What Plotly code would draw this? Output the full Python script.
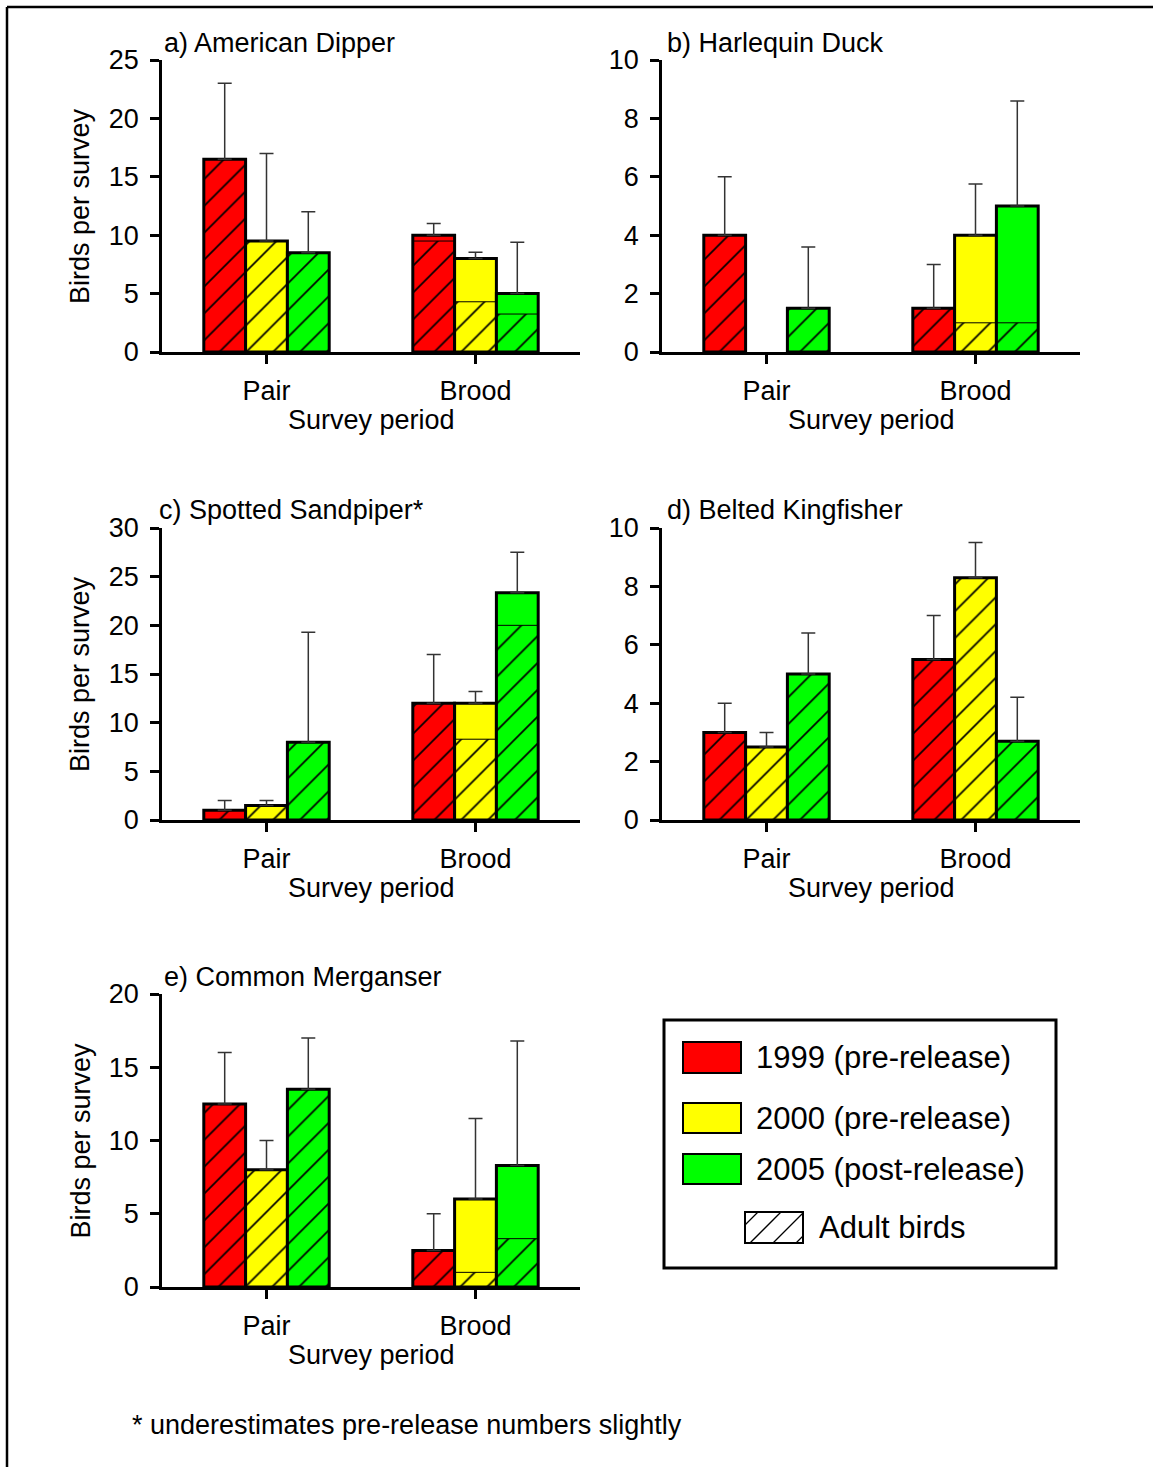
import plotly.graph_objects as go

W, H = 1153, 1467
FONT = "Liberation Sans, Arial, Helvetica, sans-serif"

# ---------------- data ----------------
periods = ["Pair", "Brood"]
year_labels = ["1999 (pre-release)", "2000 (pre-release)", "2005 (post-release)"]
year_colors = ["#ff0000", "#ffff00", "#00ff00"]
adult_label = "Adult birds"

panel_titles = ["a) American Dipper", "b) Harlequin Duck", "c) Spotted Sandpiper*",
                "d) Belted Kingfisher", "e) Common Merganser"]
y_max = [25, 10, 30, 10, 20]
y_step = [5, 2, 5, 2, 5]

# rows = years (1999, 2000, 2005), columns = periods (Pair, Brood)
dipper_total = [[16.5, 10.0], [9.5, 8.0], [8.5, 5.0]]
dipper_adult = [[16.5, 9.5], [9.5, 4.3], [8.5, 3.25]]
dipper_upper = [[23.0, 11.0], [17.0, 8.55], [12.0, 9.4]]

harlequin_total = [[4.0, 1.5], [None, 4.0], [1.5, 5.0]]
harlequin_adult = [[4.0, 1.5], [None, 1.0], [1.5, 1.0]]
harlequin_upper = [[6.0, 3.0], [None, 5.75], [3.6, 8.6]]

sandpiper_total = [[1.0, 12.0], [1.5, 12.0], [8.0, 23.35]]
sandpiper_adult = [[1.0, 12.0], [1.5, 8.3], [8.0, 20.0]]
sandpiper_upper = [[2.0, 17.0], [2.0, 13.2], [19.3, 27.5]]

kingfisher_total = [[3.0, 5.5], [2.5, 8.3], [5.0, 2.7]]
kingfisher_adult = [[3.0, 5.5], [2.5, 8.3], [5.0, 2.7]]
kingfisher_upper = [[4.0, 7.0], [3.0, 9.5], [6.4, 4.2]]

merganser_total = [[12.5, 2.5], [8.0, 6.0], [13.5, 8.3]]
merganser_adult = [[12.5, 2.5], [8.0, 1.0], [13.5, 3.3]]
merganser_upper = [[16.0, 5.0], [10.0, 11.5], [17.0, 16.8]]

x_title = "Survey period"
y_title = "Birds per survey"
footnote = "* underestimates pre-release numbers slightly"

panels = [
    (dipper_total, dipper_adult, dipper_upper),
    (harlequin_total, harlequin_adult, harlequin_upper),
    (sandpiper_total, sandpiper_adult, sandpiper_upper),
    (kingfisher_total, kingfisher_adult, kingfisher_upper),
    (merganser_total, merganser_adult, merganser_upper),
]

# ---------------- layout geometry (pixels) ----------------
col_x = [(162, 580), (662, 1080)]
row_y = [(60, 352), (528, 820), (994, 1287)]
panel_cell = [(0, 0), (0, 1), (1, 0), (1, 1), (2, 0)]
title_px = [(162, 43), (665, 43), (157, 510), (665, 510), (162, 977)]
bar_offsets = [-0.3, -0.1, 0.1]
bar_w = 0.2


def fx(px):
    return px / W


def fy(py):
    return 1 - py / H


fig = go.Figure()
annotations = []
shapes = []
TXT = dict(family=FONT, size=27, color="black")

for i, (tot, adu, upp) in enumerate(panels):
    r, c = panel_cell[i]
    sfx = "" if i == 0 else str(i + 1)
    xa, ya = "x" + sfx, "y" + sfx
    for k in range(3):
        col = year_colors[k]
        err = [None if (u is None or t is None) else u - t for u, t in zip(upp[k], tot[k])]
        # base fill (juvenile part visible above adults)
        fig.add_trace(go.Bar(x=periods, y=tot[k], xaxis=xa, yaxis=ya, offset=bar_offsets[k],
                             width=bar_w, marker=dict(color=col, line=dict(width=0)),
                             showlegend=False, hoverinfo="skip"))
        # adult part (hatched)
        fig.add_trace(go.Bar(x=periods, y=adu[k], xaxis=xa, yaxis=ya, offset=bar_offsets[k],
                             width=bar_w,
                             marker=dict(color=col, line=dict(color="black", width=1),
                                         pattern=dict(shape="/", fgcolor="black", bgcolor=col,
                                                      size=19, solidity=0.09)),
                             showlegend=False, hoverinfo="skip"))
        # outline + error bar
        fig.add_trace(go.Bar(x=periods, y=tot[k], xaxis=xa, yaxis=ya, offset=bar_offsets[k],
                             width=bar_w,
                             marker=dict(color="rgba(0,0,0,0)", line=dict(color="black", width=3)),
                             error_y=dict(type="data", symmetric=False, array=err,
                                          arrayminus=[0, 0], color="#333333", thickness=1.5, width=7),
                             showlegend=False, hoverinfo="skip"))

    x0, x1 = col_x[c]
    y0, y1 = row_y[r]
    fig.layout["xaxis" + sfx] = dict(
        domain=[fx(x0), fx(x1)], anchor=ya, type="category", range=[-0.5, 1.5],
        showline=True, linecolor="black", linewidth=2.5, ticks="outside", ticklen=9,
        tickwidth=2.5, tickcolor="black", tickfont=TXT, showgrid=False, zeroline=False,
        ticklabelstandoff=4, automargin=False, fixedrange=True)
    fig.layout["yaxis" + sfx] = dict(
        domain=[fy(y1), fy(y0)], anchor=xa, range=[0, y_max[i]], tick0=0, dtick=y_step[i],
        showline=True, linecolor="black", linewidth=2.5, ticks="outside", ticklen=9,
        tickwidth=2.5, tickcolor="black", tickfont=TXT, showgrid=False, zeroline=False,
        ticklabelstandoff=6, automargin=False, fixedrange=True)

    tx, ty = title_px[i]
    annotations.append(dict(text=panel_titles[i], x=fx(tx), y=fy(ty), xref="paper", yref="paper",
                            xanchor="left", yanchor="middle", showarrow=False, font=TXT))
    annotations.append(dict(text=x_title, x=fx((x0 + x1) / 2), y=fy(y1 + 68), xref="paper",
                            yref="paper", xanchor="center", yanchor="middle", showarrow=False, font=TXT))
    if c == 0:
        annotations.append(dict(text=y_title, x=fx(80), y=fy((y0 + y1) / 2), xref="paper",
                                yref="paper", xanchor="center", yanchor="middle", textangle=-90,
                                showarrow=False, font=TXT))

# footnote
annotations.append(dict(text=footnote, x=fx(130), y=fy(1425), xref="paper", yref="paper",
                        xanchor="left", yanchor="middle", showarrow=False, font=TXT))

# ---------------- legend (drawn) ----------------
LEG = dict(family=FONT, size=31, color="black")
shapes.append(dict(type="rect", xref="paper", yref="paper", x0=fx(664), x1=fx(1056),
                   y0=fy(1268), y1=fy(1020), line=dict(color="black", width=3),
                   fillcolor="white", layer="below"))
sw_rows = [(1042, 1073), (1103, 1133), (1154, 1184)]
for k in range(3):
    a, b = sw_rows[k]
    shapes.append(dict(type="rect", xref="paper", yref="paper", x0=fx(683), x1=fx(741),
                       y0=fy(b), y1=fy(a), line=dict(color="black", width=2),
                       fillcolor=year_colors[k]))
    annotations.append(dict(text=year_labels[k], x=fx(754), y=fy((a + b) / 2), xref="paper",
                            yref="paper", xanchor="left", yanchor="middle", showarrow=False, font=LEG))
# hatched swatch
hx0, hx1, hy0, hy1 = 745, 803, 1212, 1243
shapes.append(dict(type="rect", xref="paper", yref="paper", x0=fx(hx0), x1=fx(hx1),
                   y0=fy(hy1), y1=fy(hy0), line=dict(color="black", width=2), fillcolor="white"))
hh = hy1 - hy0
for start in range(727, 803, 23):
    # line from (start, hy1) going up-right at 45 degrees, clipped to swatch
    sx, sy = start, hy1
    ex, ey = start + hh, hy0
    if sx < hx0:
        sy = hy1 - (hx0 - sx)
        sx = hx0
    if ex > hx1:
        ey = hy0 + (ex - hx1)
        ex = hx1
    if sx < ex:
        shapes.append(dict(type="line", xref="paper", yref="paper", x0=fx(sx), y0=fy(sy),
                           x1=fx(ex), y1=fy(ey), line=dict(color="black", width=1.3)))
annotations.append(dict(text=adult_label, x=fx(817), y=fy((hy0 + hy1) / 2), xref="paper",
                        yref="paper", xanchor="left", yanchor="middle", showarrow=False, font=LEG))

# outer frame (left and top edges)
shapes.append(dict(type="line", xref="paper", yref="paper", x0=fx(7), x1=fx(7), y0=0, y1=fy(7),
                   line=dict(color="black", width=2.5)))
shapes.append(dict(type="line", xref="paper", yref="paper", x0=fx(7), x1=1, y0=fy(7), y1=fy(7),
                   line=dict(color="black", width=2.5)))

fig.update_layout(
    template="none",
    width=W, height=H, margin=dict(l=0, r=0, t=0, b=0, pad=0, autoexpand=False),
    paper_bgcolor="white", plot_bgcolor="white", barmode="overlay",
    font=dict(family=FONT, size=27, color="black"),
    showlegend=False, annotations=annotations, shapes=shapes,
)

fig.write_html("out.html", config={"displayModeBar": False},
               post_script="document.body.style.margin='0';")
